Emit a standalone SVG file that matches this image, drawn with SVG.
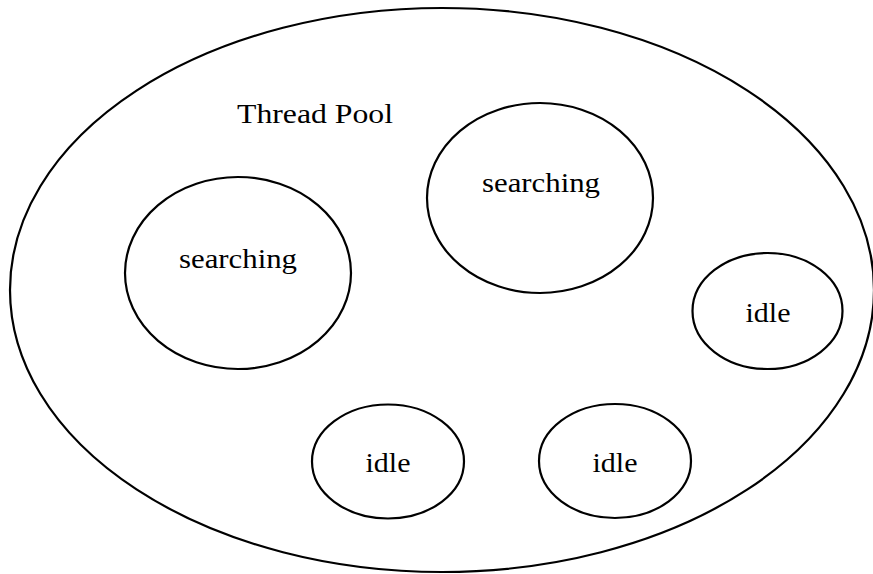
<svg xmlns="http://www.w3.org/2000/svg" width="873" height="574" viewBox="0 0 873 574">
  <style>
    .shape { fill: none; stroke: #000; stroke-width: 2.2; }
    .label { font-family: "Liberation Serif", "DejaVu Serif", serif; font-size: 27px; fill: #000; text-anchor: middle; }
  </style>
  <rect x="0" y="0" width="873" height="574" fill="#fff"/>

  <!-- container: the thread pool -->
  <g id="pool">
    <ellipse class="shape" cx="442" cy="290" rx="432" ry="282"/>
    <text class="label" x="315" y="123" textLength="156" lengthAdjust="spacingAndGlyphs">Thread Pool</text>
  </g>

  <g id="searching-left">
    <ellipse class="shape" cx="238" cy="273" rx="113" ry="96"/>
    <text class="label" x="238" y="268" textLength="118" lengthAdjust="spacingAndGlyphs">searching</text>
  </g>

  <g id="searching-top">
    <ellipse class="shape" cx="540" cy="198" rx="113" ry="95"/>
    <text class="label" x="541" y="192" textLength="118" lengthAdjust="spacingAndGlyphs">searching</text>
  </g>

  <g id="idle-right">
    <ellipse class="shape" cx="767.5" cy="311" rx="75" ry="58"/>
    <text class="label" x="768" y="322" textLength="45" lengthAdjust="spacingAndGlyphs">idle</text>
  </g>

  <g id="idle-bottom-left">
    <ellipse class="shape" cx="388" cy="461.5" rx="76" ry="57"/>
    <text class="label" x="388" y="472" textLength="45" lengthAdjust="spacingAndGlyphs">idle</text>
  </g>

  <g id="idle-bottom-right">
    <ellipse class="shape" cx="615" cy="461" rx="76" ry="57"/>
    <text class="label" x="615" y="472" textLength="45" lengthAdjust="spacingAndGlyphs">idle</text>
  </g>

  <!-- no connectors in this drawing -->
  <g id="connectors"/>
</svg>
